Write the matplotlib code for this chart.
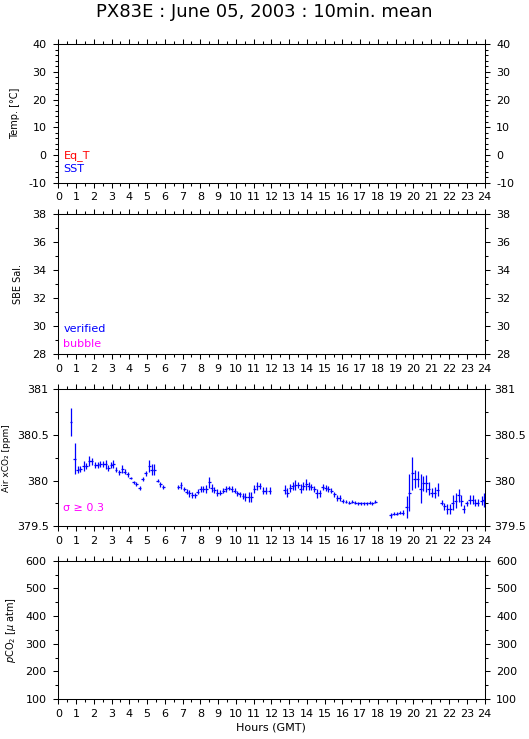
import numpy as np
import matplotlib.pyplot as plt
from matplotlib.ticker import MultipleLocator, FormatStrFormatter

plt.rcParams['font.family'] = ['DejaVu Sans']

titulo = 'PX83E : June 05, 2003 : 10min. mean'

# Air xCO2, horas (GMT), valor (ppm) y error (sigma)
horas = [0.715, 0.92, 1.09, 1.24, 1.43, 1.58, 1.75, 1.88, 2.09, 2.22, 2.35,
         2.52, 2.67, 2.82, 2.97, 3.10, 3.25, 3.42, 3.61, 3.74, 3.91, 4.07,
         4.24, 4.39, 4.58, 4.75, 4.92, 5.11, 5.26, 5.41, 5.60, 5.74, 5.91,
         6.76, 6.91, 7.08, 7.23, 7.38, 7.53, 7.70, 7.85, 8.02, 8.17, 8.32,
         8.49, 8.64, 8.79, 8.95, 9.12, 9.29, 9.42, 9.61, 9.76, 9.93, 10.08,
         10.23, 10.40, 10.53, 10.72, 10.87, 11.04, 11.19, 11.34, 11.53, 11.69,
         11.90,
         12.75, 12.90, 13.05, 13.20, 13.35, 13.50, 13.65, 13.80, 13.95, 14.10,
         14.25, 14.40, 14.55, 14.72, 14.90, 15.05, 15.20, 15.37, 15.54, 15.71,
         15.86, 16.03, 16.20, 16.39, 16.56, 16.72, 16.89, 17.04, 17.21, 17.36,
         17.53, 17.68, 17.85,
         18.73, 18.90, 19.07, 19.24, 19.39, 19.62, 19.77, 19.93, 20.07, 20.23,
         20.42, 20.55, 20.72, 20.87, 21.02, 21.19, 21.36, 21.59, 21.74, 21.89,
         22.06, 22.22, 22.39, 22.54, 22.69, 22.84, 23.01, 23.18, 23.33, 23.48,
         23.63, 23.84, 23.95]
xco2 = [380.64, 380.24, 380.12, 380.13, 380.16, 380.16, 380.21, 380.21, 380.17,
        380.17, 380.18, 380.18, 380.18, 380.14, 380.17, 380.18, 380.12, 380.09,
        380.13, 380.10, 380.07, 380.03, 379.98, 379.96, 379.92, 380.02, 380.08,
        380.16, 380.12, 380.12, 380.00, 379.96, 379.93,
        379.93, 379.95, 379.91, 379.88, 379.86, 379.84, 379.84, 379.88, 379.91,
        379.91, 379.91, 379.98, 379.92, 379.90, 379.87, 379.87, 379.89, 379.91,
        379.92, 379.91, 379.89, 379.86, 379.85, 379.83, 379.82, 379.82, 379.82,
        379.91, 379.94, 379.94, 379.89, 379.89, 379.89,
        379.90, 379.87, 379.92, 379.94, 379.95, 379.95, 379.91, 379.94, 379.96,
        379.94, 379.93, 379.91, 379.86, 379.86, 379.93, 379.92, 379.91, 379.89,
        379.85, 379.81, 379.81, 379.78, 379.77, 379.76, 379.77, 379.76, 379.75,
        379.75, 379.75, 379.75, 379.76, 379.75, 379.77,
        379.62, 379.64, 379.64, 379.65, 379.65, 379.71, 379.87, 380.08, 380.02,
        380.02, 379.91, 379.97, 379.97, 379.91, 379.87, 379.87, 379.90, 379.76,
        379.72, 379.69, 379.69, 379.76, 379.78, 379.84, 379.78, 379.69, 379.75,
        379.79, 379.79, 379.76, 379.76, 379.78, 379.79]
sigma = [0.15, 0.17, 0.04, 0.03, 0.05, 0.03, 0.055, 0.04, 0.03, 0.03, 0.03,
         0.035, 0.05, 0.03, 0.035, 0.045, 0.03, 0.03, 0.045, 0.03, 0.03, 0.015,
         0.02, 0.02, 0.02, 0.02, 0.03, 0.065, 0.06, 0.06, 0.02, 0.025, 0.02,
         0.025, 0.04, 0.02, 0.03, 0.035, 0.035, 0.03, 0.03, 0.03, 0.03, 0.04,
         0.06, 0.04, 0.03, 0.04, 0.03, 0.03, 0.03, 0.02, 0.03, 0.03, 0.03,
         0.03, 0.03, 0.04, 0.055, 0.055, 0.04, 0.04, 0.03, 0.04, 0.04, 0.04,
         0.05, 0.05, 0.04, 0.04, 0.055, 0.03, 0.05, 0.04, 0.06, 0.04, 0.03,
         0.03, 0.05, 0.04, 0.03, 0.03, 0.03, 0.03, 0.03, 0.03, 0.03, 0.02,
         0.02, 0.02, 0.02, 0.02, 0.02, 0.02, 0.02, 0.02, 0.02, 0.02, 0.02,
         0.03, 0.02, 0.02, 0.02, 0.03, 0.12, 0.2, 0.18, 0.1, 0.09, 0.16, 0.08,
         0.09, 0.07, 0.05, 0.06, 0.07, 0.03, 0.04, 0.05, 0.05, 0.08, 0.08,
         0.07, 0.06, 0.04, 0.03, 0.05, 0.05, 0.04, 0.04, 0.05, 0.08]

# Paneles: (ylim, paso mayor, paso menor, etiqueta)
paneles = [
    ((-10, 40), 10, 2, 'Temp. [°C]'),
    ((28, 38), 2, 1, 'SBE Sal.'),
    ((379.5, 381), 0.5, 0.25, 'Air xCO₂ [ppm]'),
    ((100, 600), 100, 50, r'$p$CO$_2$ [$\mu$ atm]'),
]
# posiciones en fraccion de figura (bottom, top)
posiciones = [(0.7528, 0.9401), (0.5206, 0.7100), (0.2878, 0.4732), (0.0541, 0.2413)]
# posicion x y tamano de la etiqueta y, pad de los ticks y
etiqueta_x = [-0.090, -0.083, -0.111, -0.094]
etiqueta_fs = [7, 7, 6.5, 7]
pad_y = [5, 5, 3.5, 5]

fig = plt.figure(figsize=(5.29, 7.39), dpi=100)
ejes = []
for (ylim, mayor, menor, etiqueta), (b, t), ex, fs, py in zip(
        paneles, posiciones, etiqueta_x, etiqueta_fs, pad_y):
    ax = fig.add_axes([0.1102, b, 0.8057, t - b])
    ax.set_xlim(0, 24)
    ax.set_ylim(*ylim)
    ax.xaxis.set_major_locator(MultipleLocator(1))
    ax.xaxis.set_minor_locator(MultipleLocator(0.5))
    ax.yaxis.set_major_locator(MultipleLocator(mayor))
    ax.yaxis.set_minor_locator(MultipleLocator(menor))
    ax.yaxis.set_major_formatter(FormatStrFormatter('%g'))
    ax.tick_params(which='both', direction='out', top=True, right=True,
                   labelright=True, width=0.75, labelsize=8)
    ax.tick_params(which='major', length=3.5)
    ax.tick_params(which='minor', length=2)
    ax.tick_params(axis='y', which='major', pad=py)
    ax.tick_params(axis='x', which='major', pad=3.5)
    for s in ax.spines.values():
        s.set_linewidth(0.75)
    ax.set_ylabel(etiqueta, fontsize=fs)
    ax.yaxis.set_label_coords(ex, 0.5)
    ejes.append(ax)

ax1, ax2, ax3, ax4 = ejes
ax1.text(0.012, 0.18, 'Eq_T', color='red', fontsize=8, transform=ax1.transAxes)
ax1.text(0.012, 0.075, 'SST', color='blue', fontsize=8, transform=ax1.transAxes)
ax2.text(0.012, 0.16, 'verified', color='blue', fontsize=8, transform=ax2.transAxes)
ax2.text(0.012, 0.055, 'bubble', color='magenta', fontsize=8, transform=ax2.transAxes)
ax3.text(0.012, 0.11, 'σ ≥ 0.3', color='magenta', fontsize=8, transform=ax3.transAxes)

ax3.errorbar(horas, xco2, xerr=1/12, yerr=sigma, fmt='none', ecolor='blue',
             elinewidth=0.9, capsize=0)

ax4.set_xlabel('Hours (GMT)', fontsize=8, labelpad=3)
fig.text(0.5, 0.984, titulo, ha='center', va='center', fontsize=13)

fig.savefig('out.png', dpi=100)
